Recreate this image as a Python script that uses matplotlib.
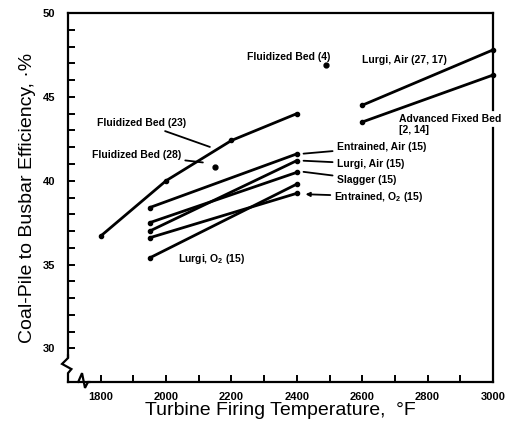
import matplotlib
matplotlib.use("Agg")
import matplotlib.pyplot as plt
from matplotlib.ticker import MultipleLocator

plt.rcParams['font.family'] = ['Liberation Sans', 'DejaVu Sans']
plt.rcParams['mathtext.fontset'] = 'custom'
plt.rcParams['mathtext.rm'] = 'Liberation Sans:bold'
plt.rcParams['mathtext.bf'] = 'Liberation Sans:bold'

# --- data ---
fb23_x = [1800, 2000, 2200, 2400]
fb23_y = [36.7, 40.0, 42.4, 44.0]
fb28_x, fb28_y = [2150], [40.8]
fb4_x, fb4_y = [2490], [46.9]

lurgi_air_2717_x = [2600, 3000]
lurgi_air_2717_y = [44.5, 47.8]
adv_fixed_x = [2600, 3000]
adv_fixed_y = [43.5, 46.3]

gas_x = [1950, 2400]
entrained_air_y = [38.4, 41.6]
lurgi_air_y = [37.0, 41.2]
slagger_y = [37.5, 40.5]
entrained_o2_y = [36.6, 39.25]
lurgi_o2_y = [35.4, 39.8]

fig = plt.figure(figsize=(5.17, 4.25), dpi=100)
ax = fig.add_axes([68 / 517, 43 / 425, 425 / 517, 369 / 425])

lw = 2.0
kw = dict(color='black', linewidth=lw, marker='o', markersize=3, solid_capstyle='round')
ax.plot(fb23_x, fb23_y, **kw)
ax.plot(lurgi_air_2717_x, lurgi_air_2717_y, clip_on=False, **kw)
ax.plot(adv_fixed_x, adv_fixed_y, clip_on=False, **kw)
for ys in [entrained_air_y, lurgi_air_y, slagger_y, entrained_o2_y, lurgi_o2_y]:
    ax.plot(gas_x, ys, **kw)
ax.plot(fb28_x, fb28_y, 'o', color='black', markersize=3.5)
ax.plot(fb4_x, fb4_y, 'o', color='black', markersize=3.5)

# etiquetas
tkw = dict(fontsize=7.5, fontweight='bold', va='center')
akw = dict(arrowstyle='-', color='black', lw=1.3, shrinkA=1, shrinkB=2)

ax.annotate('Entrained, Air (15)', xy=(2412, 41.6), xytext=(2522, 42.02),
            ha='left', arrowprops=akw, **tkw)
ax.annotate('Lurgi, Air (15)', xy=(2412, 41.2), xytext=(2522, 41.0),
            ha='left', arrowprops=akw, **tkw)
ax.annotate('Slagger (15)', xy=(2412, 40.55), xytext=(2522, 40.06),
            ha='left', arrowprops=akw, **tkw)
ax.annotate(r'Entrained, O$_2$ (15)', xy=(2418, 39.2), xytext=(2515, 39.05),
            ha='left', arrowprops=dict(arrowstyle='-|>', mutation_scale=6, color='black',
                                       lw=1.3, shrinkA=1, shrinkB=2), **tkw)
ax.text(2035, 35.35, r'Lurgi, O$_2$ (15)', ha='left', **tkw)

ax.annotate('Fluidized Bed (23)', xy=(2142, 41.96), xytext=(2062, 43.45),
            ha='right', arrowprops=akw, **tkw)
ax.annotate('Fluidized Bed (28)', xy=(2121, 41.07), xytext=(2046, 41.55),
            ha='right', arrowprops=akw, **tkw)
ax.text(2246, 47.38, 'Fluidized Bed (4)', ha='left', **tkw)
ax.text(2600, 47.2, 'Lurgi, Air (27, 17)', ha='left', **tkw)
ax.text(2712, 43.7, 'Advanced Fixed Bed', ha='left', clip_on=False, **tkw)
ax.text(2712, 43.0, '[2, 14]', ha='left', clip_on=False, **tkw)

# eixos
ax.set_xlim(1700, 3000)
ax.set_ylim(28, 50)
ax.set_xticks([1800, 2000, 2200, 2400, 2600, 2800, 3000])
ax.xaxis.set_minor_locator(MultipleLocator(100))
ax.set_yticks([30, 35, 40, 45, 50])
ax.set_yticks(range(30, 50), minor=True)
ax.tick_params(which='both', direction='in', length=5, width=1.4)
ax.tick_params(axis='x', pad=7)
ax.tick_params(axis='y', pad=9)
for lab in ax.get_xticklabels() + ax.get_yticklabels():
    lab.set_fontsize(8)
    lab.set_fontweight('bold')

for s in ax.spines.values():
    s.set_linewidth(1.6)
ax.spines['left'].set_bounds(29.5, 50)
ax.spines['bottom'].set_bounds(1735, 3000)
ax.spines['right'].set_visible(False)

t = ax.transAxes
# eixo direito interrompido pelo rotulo "Advanced Fixed Bed"
ax.plot([1, 1], [0, 0.688], color='black', lw=1.6, transform=t, clip_on=False)
ax.plot([1, 1], [0.737, 1], color='black', lw=1.6, transform=t, clip_on=False)

# quebras dos eixos (zigue-zague)
ax.plot([0, 0, -0.014, 0.008, 0, 0], [0.072, 0.065, 0.049, 0.035, 0.024, 0.0],
        color='black', lw=1.6, transform=t, clip_on=False, solid_joinstyle='miter')
ax.plot([0, 0.024, 0.033, 0.040, 0.047, 0.05], [0, 0, 0.024, -0.016, 0, 0],
        color='black', lw=1.6, transform=t, clip_on=False, solid_joinstyle='miter')

ax.set_xlabel('Turbine Firing Temperature,  °F', fontsize=14, labelpad=0)
ax.set_ylabel('Coal-Pile to Busbar Efficiency, ·%', fontsize=14, labelpad=5)

fig.savefig('out.png', dpi=100)
